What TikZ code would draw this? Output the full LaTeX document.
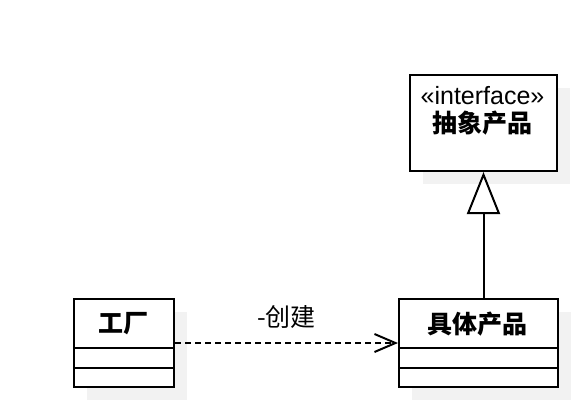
\documentclass[tikz,border=0pt]{standalone}
\usepackage{fontspec}
\setmainfont{Liberation Sans}
\newfontfamily\cjk{Noto Sans CJK SC}
\usetikzlibrary{arrows.meta}
\begin{document}
\begin{tikzpicture}[x=1pt, y=-1pt, line width=2pt,
		shadowbox/.style={fill=black!5, draw=none},
		classbox/.style={draw, fill=white, anchor=north west, inner sep=0pt, minimum height=#1},
		classbox/.default=88pt,
		cname/.style={font=\fontsize{25}{28}\selectfont\cjk\bfseries, inner sep=0pt, align=center}]
	\useasboundingbox (0, 0) rectangle (588, 412);

	% shadows
	\foreach \x/\y/\w/\h in {87/312/100/88, 412/312/159/88, 423/88/147/96}
		\fill[shadowbox] (\x, \y) rectangle ++(\w, \h);

	% classes
	\node[classbox, minimum width=100pt] (factory) at (73, 298) {};
	\node[classbox, minimum width=159pt] (product) at (398, 298) {};
	\node[classbox=96pt, minimum width=147pt] (iface) at (409, 74) {};

	\foreach \y in {348, 368} {
		\draw (factory.west |- 0, \y) -- (factory.east |- 0, \y);
		\draw (product.west |- 0, \y) -- (product.east |- 0, \y);
	}

	\node[cname] (factoryname) at (123, 324) {工厂};
	\node[cname] (productname) at (477.5, 324) {具体产品};
	\node[cname] (ifacename) at (482.5, 111) {{\mdseries\fontspec{Liberation Sans}«interface»}\\抽象产品};

	% relations
	\draw[dash pattern=on 6pt off 4pt, -{Straight Barb[length=21pt, width=18pt]}] (factory.east) -- (product.west)
		node[midway, above=14pt, inner sep=0pt, font=\fontsize{25}{28}\selectfont\cjk] (createlabel) {-创建};
	\draw[-{Triangle[open, length=42pt, width=33pt, fill=white]}] (product.north -| iface.south) -- (iface.south);
\end{tikzpicture}
\end{document}
